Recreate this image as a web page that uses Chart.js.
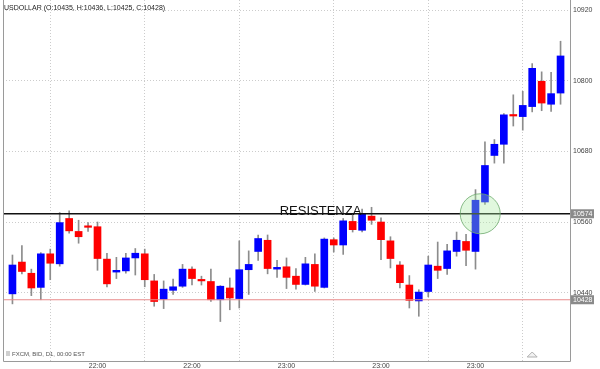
<!DOCTYPE html>
<html>
<head>
<meta charset="utf-8">
<script src="https://cdn.jsdelivr.net/npm/chart.js@4.4.1/dist/chart.umd.min.js"></script>
<style>
    body { margin: 0; background: #fff; }
    #wrap { width: 600px; height: 369px; position: relative; }
</style>
</head>
<body>
<div id="wrap"><canvas id="candles"></canvas></div>

<script>
    // daily candles (left to right)
    var opens  = [10438,10492,10473,10449,10506,10489,10566,10544,10553,10552,
                  10497,10475,10477,10499,10506,10460,10429,10444,10451,10480,
                  10462,10459,10428,10448,10430,10479,10510,10529,10480,10484,
                  10468,10454,10488,10449,10530,10521,10561,10546,10570,10560,
                  10528,10487,10453,10426,10442,10485,10481,10510,10527,10510,
                  10594,10673,10692,10742,10739,10756,10799,10760,10779];
    var highs  = [10504,10520,10480,10508,10514,10576,10579,10563,10559,10560,
                  10507,10500,10507,10515,10514,10471,10460,10463,10488,10484,
                  10468,10480,10452,10465,10528,10511,10538,10538,10495,10499,
                  10481,10500,10506,10533,10533,10566,10573,10582,10585,10567,
                  10535,10493,10469,10445,10502,10526,10522,10543,10539,10615,
                  10696,10700,10744,10776,10782,10829,10815,10814,10867];
    var lows   = [10421,10472,10435,10428,10462,10485,10541,10524,10544,10478,
                  10450,10464,10473,10470,10450,10417,10413,10437,10449,10453,
                  10453,10425,10391,10411,10414,10437,10495,10472,10466,10447,
                  10446,10453,10442,10448,10509,10505,10543,10543,10556,10496,
                  10482,10448,10414,10400,10433,10464,10471,10502,10486,10480,
                  10590,10660,10660,10723,10716,10747,10749,10748,10760];
    var closes = [10487,10476,10448,10506,10490,10559,10545,10535,10551,10498,
                  10455,10478,10499,10507,10462,10425,10446,10450,10480,10464,
                  10460,10428,10451,10431,10479,10488,10532,10481,10483,10466,
                  10454,10489,10451,10531,10521,10562,10547,10574,10563,10530,
                  10498,10457,10427,10441,10487,10478,10511,10529,10512,10597,
                  10656,10692,10742,10740,10758,10821,10762,10778,10842];

    var xTickPositions = [10, 20, 30, 40, 50];
    var xTickLabels = ['22:00', '22:00', '23:00', '23:00', '23:00'];
    var yTicks = [10440, 10560, 10680, 10800, 10920];

    var resistanceLevel = 10574;
    var lastLevel = 10428;
    var circleAt = 50.5;

    var titleText = 'USDOLLAR (O:10435, H:10436, L:10425, C:10428)';
    var footerText = 'FXCM, BID, D1, 00:00 EST';
    var FONT = '"Liberation Sans", Arial, sans-serif';

    var bodyData = [], wickData = [], bodyColors = [];
    for (let i = 0; i < opens.length; i++) {
        bodyData.push({ x: i + 1, y: [opens[i], closes[i]] });
        wickData.push({ x: i + 1, y: [lows[i], highs[i]] });
        bodyColors.push(closes[i] >= opens[i] ? '#0000ff' : '#ff0000');
    }

    // texts, badges and frame drawn on top, placed through the scales
    const extras = {
        id: 'extras',
        afterDraw(chart) {
            const ctx = chart.ctx;
            const area = chart.chartArea;
            const x = chart.scales.x, y = chart.scales.y;
            ctx.save();

            // frame
            ctx.strokeStyle = '#9a9a9a';
            ctx.lineWidth = 1;
            ctx.beginPath();
            ctx.moveTo(area.left + 0.5, area.top);
            ctx.lineTo(area.left + 0.5, area.bottom + 0.5);
            ctx.lineTo(area.right + 0.5, area.bottom + 0.5);
            ctx.lineTo(area.right + 0.5, area.top);
            ctx.stroke();

            // title
            ctx.fillStyle = '#222';
            ctx.font = '7px ' + FONT;
            ctx.textBaseline = 'middle';
            ctx.textAlign = 'left';
            ctx.fillText(titleText, area.left + 1, 8);

            // footer
            ctx.fillStyle = '#cfcfcf';
            ctx.fillRect(area.left + 3, area.bottom - 10, 4, 5);
            ctx.fillStyle = '#555';
            ctx.font = '6px ' + FONT;
            ctx.fillText(footerText, area.left + 9, area.bottom - 7);

            // little triangle
            const tx = x.getPixelForValue(56);
            const ty = area.bottom - 4;
            ctx.beginPath();
            ctx.moveTo(tx - 5, ty);
            ctx.lineTo(tx + 5, ty);
            ctx.lineTo(tx, ty - 5);
            ctx.closePath();
            ctx.fillStyle = '#f2f2f2';
            ctx.fill();
            ctx.strokeStyle = '#b0b0b0';
            ctx.stroke();

            // RESISTENZA
            const ry = y.getPixelForValue(resistanceLevel);
            ctx.fillStyle = '#111';
            ctx.font = '13px ' + FONT;
            ctx.textAlign = 'center';
            ctx.textBaseline = 'alphabetic';
            ctx.fillText('RESISTENZA', x.getPixelForValue(33.6), ry + 1);

            // value badges on the axis
            [resistanceLevel, lastLevel].forEach(function (lv) {
                const py = y.getPixelForValue(lv);
                ctx.fillStyle = '#8a8a8a';
                ctx.fillRect(area.right + 1, py - 4.5, 23, 9);
                ctx.fillStyle = '#fff';
                ctx.font = '7px ' + FONT;
                ctx.textAlign = 'left';
                ctx.textBaseline = 'middle';
                ctx.fillText(String(lv), area.right + 3, py + 0.5);
            });
            ctx.restore();
        }
    };

    new Chart(document.getElementById('candles'), {
        type: 'bar',
        data: {
            datasets: [
                {
                    type: 'line',
                    data: [{ x: 0, y: resistanceLevel }, { x: 60, y: resistanceLevel }],
                    borderColor: '#111',
                    borderWidth: 1.5,
                    pointRadius: 0,
                    order: -2
                },
                {
                    type: 'line',
                    data: [{ x: 0, y: lastLevel }, { x: 60, y: lastLevel }],
                    borderColor: '#e88a8a',
                    borderWidth: 1,
                    pointRadius: 0,
                    order: -1
                },
                {
                    data: bodyData,
                    backgroundColor: bodyColors,
                    barThickness: 7,
                    minBarLength: 1.5,
                    grouped: false,
                    order: 0
                },
                {
                    data: wickData,
                    backgroundColor: '#8c8c8c',
                    barThickness: 1,
                    grouped: false,
                    order: 1
                },
                {
                    type: 'bubble',
                    data: [{ x: circleAt, y: resistanceLevel, r: 20 }],
                    backgroundColor: 'rgba(170, 235, 160, 0.35)',
                    borderColor: 'rgba(110, 170, 110, 0.8)',
                    borderWidth: 1,
                    order: -3
                }
            ]
        },
        options: {
            responsive: true,
            maintainAspectRatio: false,
            animation: false,
            layout: { autoPadding: false, padding: { left: 3, top: 0, right: 0, bottom: 0 } },
            plugins: {
                legend: { display: false },
                tooltip: { enabled: false }
            },
            scales: {
                x: {
                    type: 'linear',
                    min: 0,
                    max: 60,
                    offset: false,
                    afterBuildTicks: function (scale) {
                        scale.ticks = xTickPositions.map(function (v) { return { value: v }; });
                    },
                    afterFit: function (scale) {
                        scale.height = 8;
                        scale.paddingLeft = 0;
                        scale.paddingRight = 0;
                    },
                    grid: { color: '#cccccc', drawTicks: false },
                    border: { display: false, dash: [1, 2] },
                    ticks: {
                        padding: 1,
                        maxRotation: 0,
                        autoSkip: false,
                        color: '#444',
                        font: { family: FONT, size: 7 },
                        callback: function (value) {
                            const k = xTickPositions.indexOf(value);
                            return k >= 0 ? xTickLabels[k] : '';
                        }
                    }
                },
                y: {
                    position: 'right',
                    min: 10324,
                    max: 10937,
                    afterBuildTicks: function (scale) {
                        scale.ticks = yTicks.map(function (v) { return { value: v }; });
                    },
                    afterFit: function (scale) {
                        scale.width = 30;
                        scale.paddingTop = 0;
                        scale.paddingBottom = 0;
                    },
                    grid: { color: '#cccccc', drawTicks: false },
                    border: { display: false, dash: [1, 2] },
                    ticks: {
                        padding: 3,
                        color: '#444',
                        font: { family: FONT, size: 7 },
                        callback: function (value) { return String(value); }
                    }
                }
            }
        },
        plugins: [extras]
    });
</script>
</body>
</html>
